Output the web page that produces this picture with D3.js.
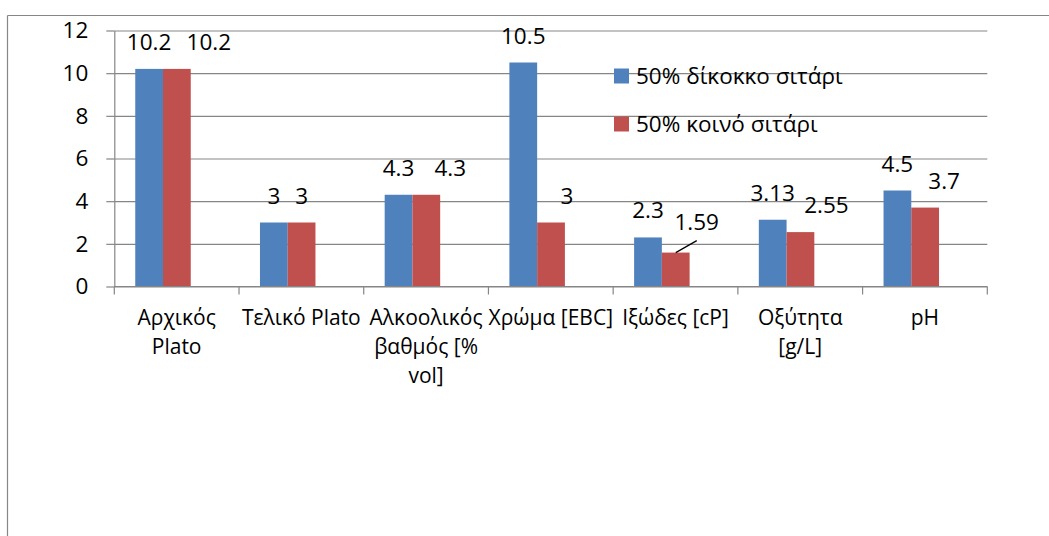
<!DOCTYPE html>
<html lang="el">
<head>
<meta charset="utf-8">
<title>Χαρακτηριστικά μπύρας</title>
<script src="https://cdn.jsdelivr.net/npm/d3@7/dist/d3.min.js"></script>
<style>
  html, body { margin: 0; padding: 0; background: #ffffff; }
  svg { display: block; }
  text { font-family: "Open Sans", "Noto Sans", sans-serif; fill: #000000; }
</style>
</head>
<body>
<svg id="chart" width="1049" height="536"></svg>
<script>
// Categories (line breaks mark where the axis label wraps)
const categories = [
  "Αρχικός\nPlato",
  "Τελικό Plato",
  "Αλκοολικός\nβαθμός [%\nvol]",
  "Χρώμα [EBC]",
  "Ιξώδες [cP]",
  "Οξύτητα\n[g/L]",
  "pH"
];

const seriesNames = ["50% δίκοκκο σιτάρι", "50% κοινό σιτάρι"];

const dikokkoValues = [10.2, 3, 4.3, 10.5, 2.3, 3.13, 4.5];
const koinoValues   = [10.2, 3, 4.3, 3, 1.59, 2.55, 3.7];

const yTicks = [0, 2, 4, 6, 8, 10, 12];

// ---- layout ----
const W = 1049, H = 536;
const plot = { left: 114.3, right: 987.3, top: 30.5, bottom: 286.5 };
const colors = ["#4F81BD", "#C0504D"];
const gray = "#868686";
const fontSize = 22.5;      // values, ticks, legend
const catFontSize = 21;     // category axis labels

// Horizontal nudges of the second series' value labels, and which ones use a leader line
const redLabelDx = [32, 0, 24, 16, 21, 26, 19];
const redLabelDy = [0, 0, 0, 0, 4, 0, 0];
const redLeader  = [false, false, false, false, true, false, false];

const svg = d3.select("#chart");

const x0 = d3.scaleBand().domain(categories).range([plot.left, plot.right]).padding(0);
const bw = x0.bandwidth();
const x1 = d3.scaleBand().domain(seriesNames).range([bw * 0.168, bw * 0.613]).padding(0);
const y = d3.scaleLinear().domain([0, 12]).range([plot.bottom, plot.top]);

// Outer chart frame (top and left edges visible)
svg.append("line")
  .attr("x1", 7.5).attr("x2", W).attr("y1", 15.5).attr("y2", 15.5)
  .attr("stroke", gray).attr("stroke-width", 1.2);
svg.append("line")
  .attr("x1", 7.5).attr("x2", 7.5).attr("y1", 15.5).attr("y2", H)
  .attr("stroke", gray).attr("stroke-width", 1.2);

// Horizontal gridlines
svg.append("g")
  .attr("transform", `translate(${plot.left},0)`)
  .call(d3.axisLeft(y).tickValues(yTicks).tickSize(-(plot.right - plot.left)).tickFormat(""))
  .call(g => g.select(".domain").remove())
  .call(g => g.selectAll(".tick line").attr("stroke", gray).attr("stroke-width", 1.2));

// Bars
const rows = categories.map((c, i) => ({ cat: c, i, vals: [dikokkoValues[i], koinoValues[i]] }));
const groups = svg.append("g").selectAll("g")
  .data(rows).join("g")
  .attr("transform", d => `translate(${x0(d.cat)},0)`);

groups.selectAll("rect")
  .data(d => d.vals.map((v, s) => ({ v, s, name: seriesNames[s] })))
  .join("rect")
  .attr("x", d => x1(d.name))
  .attr("width", x1.bandwidth())
  .attr("y", d => y(d.v))
  .attr("height", d => y(0) - y(d.v))
  .attr("fill", d => colors[d.s]);

// Y axis
svg.append("g")
  .attr("transform", `translate(${plot.left},0)`)
  .call(d3.axisLeft(y).tickValues(yTicks).tickSize(8).tickSizeOuter(0).tickPadding(18))
  .call(g => g.select(".domain").attr("stroke", gray).attr("stroke-width", 1.2))
  .call(g => g.selectAll(".tick line").attr("stroke", gray).attr("stroke-width", 1.2))
  .call(g => g.selectAll(".tick text")
    .attr("font-size", fontSize)
    .attr("font-family", "'Open Sans', 'Noto Sans', sans-serif")
    .attr("fill", "#000"));

// X axis line and category boundary ticks
svg.append("line")
  .attr("x1", plot.left).attr("x2", plot.right)
  .attr("y1", y(0)).attr("y2", y(0))
  .attr("stroke", gray).attr("stroke-width", 1.2);
const boundaries = categories.map(c => x0(c)).concat([plot.right]);
svg.append("g").selectAll("line")
  .data(boundaries).join("line")
  .attr("x1", d => d).attr("x2", d => d)
  .attr("y1", y(0)).attr("y2", y(0) + 8)
  .attr("stroke", gray).attr("stroke-width", 1.2);

// Category labels
const catLabels = svg.append("g").selectAll("text")
  .data(categories).join("text")
  .attr("text-anchor", "middle")
  .attr("font-size", catFontSize)
  .attr("x", d => x0(d) + bw / 2)
  .attr("y", 325);
catLabels.selectAll("tspan")
  .data(d => d.split("\n").map(line => ({ line, x: x0(d) + bw / 2 })))
  .join("tspan")
  .attr("x", d => d.x)
  .attr("dy", (d, i) => i === 0 ? 0 : 29)
  .text(d => d.line);

// Value labels
const labelGap = 19;
rows.forEach(r => {
  r.vals.forEach((v, s) => {
    const cx = x0(r.cat) + x1(seriesNames[s]) + x1.bandwidth() / 2;
    const dx = s === 1 ? redLabelDx[r.i] : 0;
    const dy = s === 1 ? redLabelDy[r.i] : 0;
    const ly = y(v) - labelGap - dy;
    svg.append("text")
      .attr("text-anchor", "middle")
      .attr("font-size", fontSize)
      .attr("x", cx + dx)
      .attr("y", ly)
      .text(String(v));
    if (s === 1 && redLeader[r.i]) {
      svg.append("line")
        .attr("x1", cx).attr("y1", y(v))
        .attr("x2", cx + dx).attr("y2", ly + 11)
        .attr("stroke", "#000").attr("stroke-width", 1.3);
    }
  });
});

// Legend
const legend = svg.append("g").attr("transform", "translate(614,68.5)");
const legendItems = legend.selectAll("g")
  .data(seriesNames).join("g")
  .attr("transform", (d, i) => `translate(0,${i * 48})`);
legendItems.append("rect")
  .attr("width", 15).attr("height", 15)
  .attr("fill", (d, i) => colors[i]);
legendItems.append("text")
  .attr("x", 22).attr("y", 15.8)
  .attr("font-size", fontSize)
  .text(d => d);
</script>
</body>
</html>
